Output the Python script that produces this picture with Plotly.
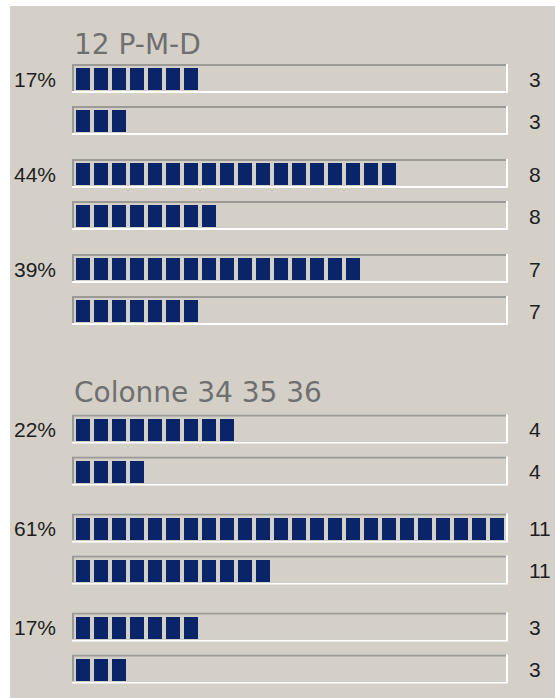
import plotly.graph_objects as go

# ---- data ----
groups = ["12 P-M-D", "Colonne 34 35 36"]
pct_labels = [["17%", "44%", "39%"], ["22%", "61%", "17%"]]
share_blocks = [[7, 18, 16], [9, 24, 7]]   # blocks in the upper bar of each pair
counts = [[3, 8, 7], [4, 11, 3]]           # value shown at right / blocks in lower bar
capacity = 24                               # blocks that fit in one track

# ---- layout helpers ----
W, H = 555, 698
PX = 18.0      # pixels per block
X0 = 74        # pixel column of value 0


def px2x(p):
    return (p - X0) / PX


BG = "#d4d0c8"
BLUE = "#0a246a"
LABEL_FONT = "Liberation Sans, Arial, sans-serif"

title_y = [44, 392.5]
first_row_y = [79, 429.5]
pair_step = [95, 99]
row_gap = 42

fig = go.Figure()
shapes = []
annotations = []

for g, name in enumerate(groups):
    annotations.append(dict(
        x=px2x(72), y=title_y[g], xref="x", yref="y", text=name,
        showarrow=False, xanchor="left", yanchor="middle",
        font=dict(family="DejaVu Sans", size=28, color="#6f6f6f")))
    for k in range(len(counts[g])):
        ya = first_row_y[g] + k * pair_step[g]
        yb = ya + row_gap
        annotations.append(dict(
            x=px2x(12), y=ya, xref="x", yref="y", text=pct_labels[g][k],
            showarrow=False, xanchor="left", yanchor="middle",
            font=dict(family=LABEL_FONT, size=21, color="#1e1e1e")))
        for yc, n in ((ya, share_blocks[g][k]), (yb, counts[g][k])):
            # sunken track: white (bottom/right), gray (top/left), face
            shapes.append(dict(type="rect", xref="x", yref="y", layer="below",
                               x0=px2x(72), x1=px2x(508), y0=yc - 15, y1=yc + 14,
                               fillcolor="#ffffff", line=dict(width=0)))
            shapes.append(dict(type="rect", xref="x", yref="y", layer="below",
                               x0=px2x(72), x1=px2x(506), y0=yc - 15, y1=yc + 12,
                               fillcolor="#9c9a96", line=dict(width=0)))
            shapes.append(dict(type="rect", xref="x", yref="y", layer="below",
                               x0=0, x1=px2x(506), y0=yc - 13, y1=yc + 12,
                               fillcolor=BG, line=dict(width=0)))
            n_drawn = min(n, capacity)
            fig.add_trace(go.Bar(
                orientation="h", y=[yc] * n_drawn, x=[0.78] * n_drawn,
                base=[i + 0.11 for i in range(n_drawn)], width=22,
                marker=dict(color=BLUE, line=dict(width=0)),
                hoverinfo="skip", showlegend=False))
            annotations.append(dict(
                x=px2x(527), y=yc, xref="x", yref="y", text=str(counts[g][k]),
                showarrow=False, xanchor="left", yanchor="middle",
                font=dict(family=LABEL_FONT, size=21, color="#1e1e1e")))

# white strips on the top and left edge of the screenshot
shapes.append(dict(type="rect", xref="paper", yref="paper", layer="below",
                   x0=0, x1=10 / W, y0=0, y1=1, fillcolor="#ffffff", line=dict(width=0)))
shapes.append(dict(type="rect", xref="paper", yref="paper", layer="below",
                   x0=0, x1=1, y0=1 - 6 / H, y1=1, fillcolor="#ffffff", line=dict(width=0)))

fig.update_layout(
    width=W, height=H,
    margin=dict(l=0, r=0, t=0, b=0),
    paper_bgcolor=BG, plot_bgcolor=BG,
    barmode="overlay", bargap=0,
    xaxis=dict(range=[px2x(0), px2x(W)], visible=False, fixedrange=True),
    yaxis=dict(range=[H, 0], visible=False, fixedrange=True),
    shapes=shapes, annotations=annotations,
    showlegend=False,
)

fig.write_html(
    "out.html",
    config={"displayModeBar": False},
    post_script="document.body.style.margin='0';document.body.style.overflow='hidden';",
)
